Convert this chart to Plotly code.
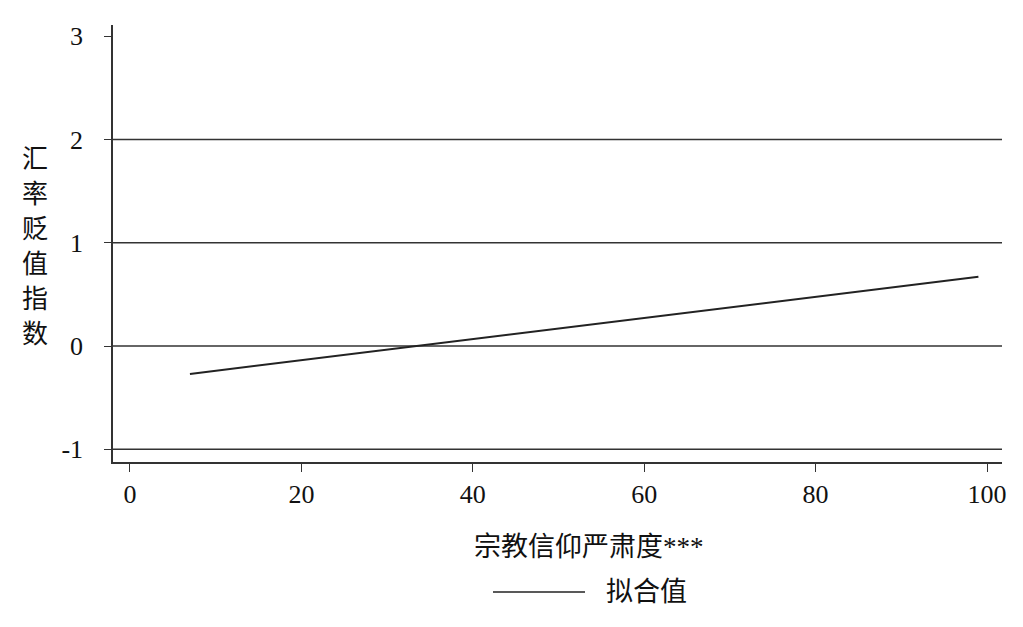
import plotly.graph_objects as go

# fitted line (Stata lfit style)
fit_x = [7, 99]
fit_y = [-0.27, 0.67]

x_ticks = [0, 20, 40, 60, 80, 100]
y_ticks = [-1, 0, 1, 2, 3]
y_tick_text = ["-1", "0", "1", "2", "3"]
grid_vals = [-1, 0, 1, 2]

x_title = "宗教信仰严肃度***"
y_title = "汇率贬值指数"
legend_label = "拟合值"

FONT = "Liberation Serif, Times New Roman, Noto Sans CJK SC"
INK = "#333333"

# plot area in page pixels (page has an 8px body margin)
L, R, T, B = 113, 1002, 25, 462
W, H = R - L, B - T


def px(x):
    return (x - L) / W


def py(y):
    return (B - y) / H


fig = go.Figure()
fig.add_trace(go.Scatter(
    x=fit_x, y=fit_y, mode="lines",
    line=dict(color="#222222", width=2),
    showlegend=False,
))

# horizontal grid lines (none at 3)
for g in grid_vals:
    fig.add_shape(type="line", xref="paper", yref="y", x0=0, x1=1, y0=g, y1=g,
                  line=dict(color=INK, width=1.5), layer="below")

# legend drawn by hand to get the long key line
fig.add_shape(type="line", xref="paper", yref="paper",
              x0=px(493), x1=px(585), y0=py(592), y1=py(592),
              line=dict(color="#222222", width=1.5))
fig.add_annotation(text=legend_label, xref="paper", yref="paper",
                   x=px(604), y=py(592),
                   xanchor="left", yanchor="middle", showarrow=False,
                   font=dict(family=FONT, size=27, color="#111111"))

fig.add_annotation(text=x_title, xref="paper", yref="paper",
                   x=px(589), y=py(547),
                   xanchor="center", yanchor="middle", showarrow=False,
                   font=dict(family=FONT, size=27, color="#111111"))

# vertical y title, one character per row
for i, ch in enumerate(y_title):
    fig.add_annotation(text=ch, xref="paper", yref="paper",
                       x=px(35), y=py(159 + i * 35),
                       xanchor="center", yanchor="middle", showarrow=False,
                       font=dict(family=FONT, size=26, color="#111111"))

fig.update_xaxes(
    range=[-1.98, 101.75], tickvals=x_ticks, ticks="outside", ticklen=8,
    tickcolor=INK, tickwidth=1.2, showgrid=False, zeroline=False,
    showline=True, linecolor=INK, linewidth=1.5,
    tickfont=dict(family=FONT, size=26, color="#111111"),
)
fig.update_yaxes(
    range=[-1.123, 3.109], tickvals=y_ticks, ticktext=y_tick_text,
    ticks="outside", ticklen=7,
    tickcolor=INK, tickwidth=1.2, showgrid=False, zeroline=False,
    showline=True, linecolor=INK, linewidth=1.5,
    tickfont=dict(family=FONT, size=26, color="#111111"),
    ticklabelstandoff=16,
)

fig.update_layout(
    width=1023, height=627,
    margin=dict(l=L - 8, r=1023 - R + 8, t=T - 8, b=627 - B + 8),
    plot_bgcolor="white", paper_bgcolor="white",
    showlegend=False,
)

fig.write_html("out.html")
